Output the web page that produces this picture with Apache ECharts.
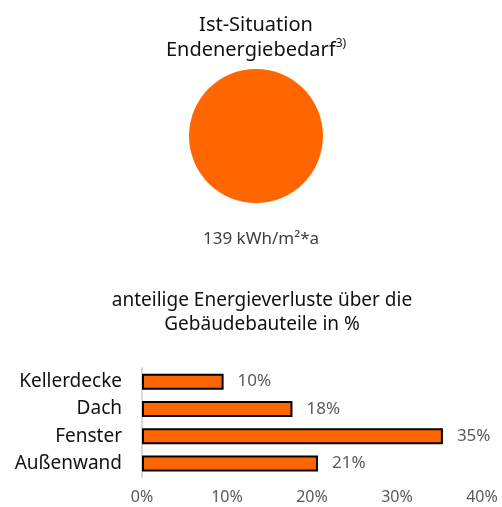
<!DOCTYPE html>
<html>
<head>
<meta charset="utf-8">
<script src="https://cdn.jsdelivr.net/npm/echarts@6/dist/echarts.min.js"></script>
<style>html,body{margin:0;padding:0;background:#fff;}#c{width:502px;height:507px;}</style>
</head>
<body>
<div id="c"></div>
<script>
const categories = ['Kellerdecke', 'Dach', 'Fenster', 'Außenwand'];
const shares = [9.6, 17.7, 35.4, 20.7];
const xTicks = [0, 10, 20, 30, 40];
const demandValue = 139;
const demandUnit = 'kWh/m²*a';

const chart = echarts.init(document.getElementById('c'));
const font = 'Noto Sans';
chart.setOption({
  animation: false,
  textStyle: { fontFamily: font },
  title: [
    {
      text: 'Ist-Situation\nEndenergiebedarf{sup|3)}',
      left: 251, top: 8, textAlign: 'center',
      textStyle: {
        fontFamily: font, fontSize: 20, fontWeight: 'normal', color: '#111', lineHeight: 25,
        rich: { sup: { fontFamily: font, fontSize: 12, color: '#111', verticalAlign: 'top', lineHeight: 25, padding: [0,0,10,0] } }
      }
    },
    {
      text: demandValue + ' ' + demandUnit,
      left: 256, top: 226, textAlign: 'center',
      textStyle: { fontFamily: font, fontSize: 17, fontWeight: 'normal', color: '#404040' }
    },
    {
      text: 'anteilige Energieverluste über die\nGebäudebauteile in %',
      left: 257, top: 284, textAlign: 'center',
      textStyle: { fontFamily: font, fontSize: 19, fontWeight: 'normal', color: '#111', lineHeight: 24 }
    }
  ],
  grid: { left: 142, right: 20, top: 368, bottom: 30 },
  xAxis: {
    type: 'value', min: xTicks[0], max: xTicks[xTicks.length - 1], interval: 10,
    axisLine: { show: false }, axisTick: { show: false }, splitLine: { show: false },
    axisLabel: { formatter: v => v + '%', color: '#595959', fontSize: 16, margin: 12, fontFamily: font }
  },
  yAxis: {
    type: 'category', data: categories, inverse: true,
    axisLine: { show: true, lineStyle: { color: '#d9d9d9', width: 2 } },
    axisTick: { show: false },
    axisLabel: { color: '#111', fontSize: 19, margin: 20, fontFamily: font }
  },
  series: [
    {
      type: 'pie', radius: 67, center: [256, 136], silent: true,
      label: { show: false }, labelLine: { show: false },
      itemStyle: { color: '#FF6600' },
      data: [demandValue]
    },
    {
      type: 'bar', data: shares, barWidth: 16, silent: true,
      itemStyle: { color: '#FF6600', borderColor: '#000', borderWidth: 2 },
      label: { show: true, position: 'right', distance: 14, color: '#595959', fontSize: 17, fontFamily: font,
        formatter: p => Math.round(p.value) + '%' }
    }
  ]
});
</script>
</body>
</html>
